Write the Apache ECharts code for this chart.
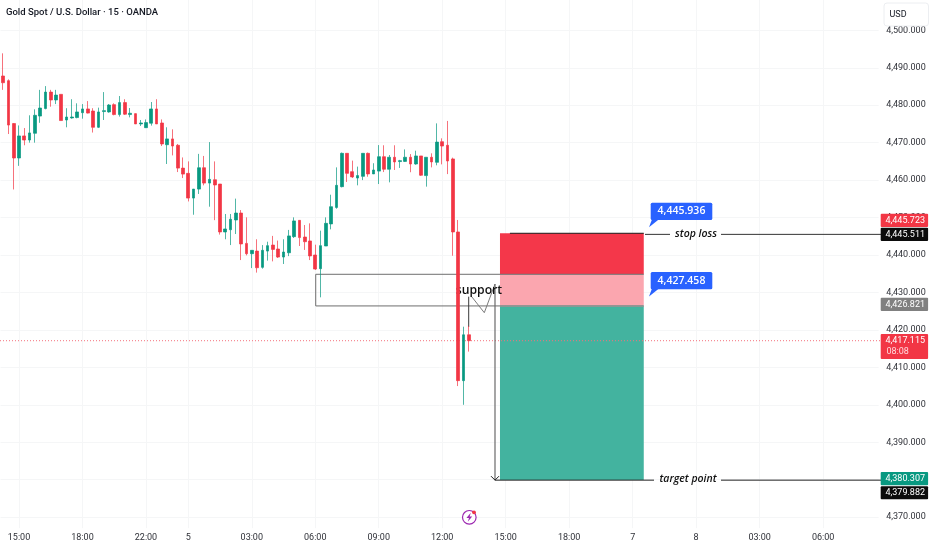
<!DOCTYPE html>
<html><head><meta charset="utf-8">
<style>html,body{margin:0;padding:0;background:#fff}#c{width:932px;height:550px}</style>
<script src="https://cdn.jsdelivr.net/npm/echarts@6/dist/echarts.min.js"></script>
</head><body><div id="c"></div>
<script>
const opens=[4487.8,4486.55,4475.1,4465.9,4471.8,4470.7,4472.5,4477.1,4479.1,4483.5,4481.4,4482.9,4476.05,4476.6,4476.7,4478.0,4479.0,4478.45,4474.1,4478.3,4478.2,4480.15,4477.5,4480.7,4477.5,4477.75,4475.0,4474.0,4475.2,4479.0,4475.25,4469.45,4471.0,4469.3,4463.2,4461.8,4455.2,4457.6,4463.3,4459.2,4460.1,4458.95,4446.15,4446.75,4449.35,4451.2,4443.1,4440.35,4441.05,4436.7,4441.05,4442.65,4441.6,4439.45,4440.6,4444.9,4449.25,4444.8,4443.75,4440.0,4436.35,4442.4,4448.3,4452.7,4458.25,4467.15,4462.25,4460.55,4461.0,4467.15,4461.65,4462.4,4466.25,4462.9,4466.1,4464.95,4465.0,4466.1,4464.3,4466.45,4461.2,4466.1,4464.75,4470.25,4469.3,4465.65,4446.15,4406.45,4418.7];
const closes=[4486.0,4474.7,4465.9,4471.8,4470.7,4472.6,4477.3,4479.25,4483.5,4481.4,4482.7,4475.9,4476.85,4476.85,4478.2,4479.0,4477.9,4474.1,4478.2,4478.55,4480.05,4477.5,4480.7,4477.6,4477.85,4475.0,4475.25,4475.35,4479.0,4475.0,4469.65,4471.0,4469.1,4463.2,4461.6,4455.2,4457.6,4463.3,4459.2,4460.2,4458.7,4446.15,4446.95,4449.55,4451.2,4442.95,4440.35,4441.25,4436.6,4441.25,4442.5,4441.5,4439.45,4440.8,4445.1,4449.1,4444.65,4443.55,4439.75,4436.25,4442.5,4448.45,4452.9,4458.6,4467.15,4461.8,4460.85,4461.2,4467.15,4461.65,4462.7,4466.25,4462.9,4466.1,4464.85,4465.2,4466.1,4464.3,4466.45,4461.3,4466.1,4464.85,4470.15,4469.1,4465.1,4446.15,4406.45,4418.7,4417.115];
const lows=[4484.1,4472.3,4457.5,4463.8,4469.3,4470.0,4470.0,4475.3,4478.9,4479.6,4480.3,4475.9,4474.1,4476.4,4476.5,4476.4,4477.8,4472.7,4473.9,4476.05,4478.0,4477.3,4476.95,4477.4,4476.75,4475.0,4474.45,4473.9,4474.55,4475.0,4469.1,4464.3,4466.6,4462.15,4460.55,4454.3,4450.75,4456.3,4458.6,4452.9,4449.3,4445.45,4444.2,4442.65,4445.6,4438.65,4439.9,4436.5,4435.3,4436.35,4438.5,4438.3,4439.2,4437.6,4439.7,4444.55,4442.4,4441.35,4438.65,4436.0,4428.7,4442.4,4446.85,4452.35,4458.05,4459.5,4460.55,4458.6,4460.0,4460.9,4461.65,4458.95,4462.15,4459.4,4462.7,4463.25,4464.85,4462.1,4464.1,4461.1,4458.25,4463.4,4463.95,4464.2,4461.6,4439.8,4405.0,4400.0,4414.2];
const highs=[4493.85,4486.9,4475.25,4474.6,4473.9,4477.3,4478.9,4484.1,4485.1,4484.1,4484.1,4482.9,4479.2,4481.6,4480.5,4480.3,4481.1,4479.2,4479.35,4483.5,4480.3,4480.5,4482.45,4481.6,4479.25,4477.85,4476.05,4476.2,4480.85,4481.6,4476.2,4474.1,4473.55,4469.65,4466.05,4465.0,4457.6,4467.0,4466.45,4470.15,4465.0,4458.95,4450.95,4450.95,4455.05,4452.0,4450.05,4441.25,4444.2,4442.65,4443.55,4445.1,4443.85,4444.2,4446.7,4450.05,4449.25,4448.0,4448.45,4442.75,4446.5,4450.05,4456.1,4463.4,4467.35,4467.15,4465.2,4463.6,4467.15,4467.35,4464.5,4469.35,4469.3,4466.7,4469.3,4465.4,4468.2,4466.95,4467.85,4466.45,4466.1,4467.15,4475.15,4471.15,4475.8,4466.0,4449.35,4420.85,4421.05];

const barCount=166;
const timeLabels=['15:00','18:00','22:00','5','03:00','06:00','09:00','12:00','15:00','18:00','7','8','03:00','06:00'];
const timeLabelBars=[3,15,27,35,47,59,71,83,95,107,119,131,143,155];

const tagLabels=['4,445.723','4,445.511','4,426.821','4,417.115','4,380.307','4,379.882'];
const tagPrices=[4445.723,4445.511,4426.821,4417.115,4380.307,4379.882];
const lastPrice=4417.115, countdown='08:08';
const stopLossTop=4445.8, zoneTop=4434.85, zoneBottom=4426.4, targetPrice=4379.92;
const stopLossLinePrice=4445.511, targetLinePrice=4379.882;
const toolLeft=93.92, toolRight=121.1, supportLeft=59.09;
const calloutPrices=[4445.936,4427.458];

const categories=Array.from({length:barCount},(_,i)=>{const k=timeLabelBars.indexOf(i);return k<0?'':timeLabels[k];});
const candles=opens.map((o,i)=>[o,closes[i],lows[i],highs[i]]);
const priceText=v=>v.toLocaleString('en-US',{minimumFractionDigits:3,maximumFractionDigits:3});

const RED='#f23645',GREEN='#089981',GRID='#f5f6f7',TXT='#2f3138';
const SANS='"Open Sans",sans-serif';
const AXISFONT='Roboto,sans-serif';
const tagStyle=[
 {fill:RED,dy:-13.2},{fill:'#0c0c0c',dy:0},{fill:'#808080',dy:0},{fill:RED,dy:0},{fill:'#089981',dy:0},{fill:'#0c0c0c',dy:12.6}];

function renderAnn(params,api){
  const X=(u)=>api.coord([u,0])[0];
  const Y=(p)=>api.coord([0,p])[1];
  const c=[];
  const box=(u0,p0,u1,p1,fill)=>c.push({type:'rect',shape:{x:X(u0),y:Y(p0),width:X(u1)-X(u0),height:Y(p1)-Y(p0)},style:{fill}});
  const line=(pts,stroke,lw,dash)=>c.push({type:'polyline',shape:{points:pts},style:{stroke,lineWidth:lw||1,fill:null,lineDash:dash||null}});
  const text=(t,x,y,font,fill,align)=>c.push({type:'text',style:{text:t,x,y,font,fill,align:align||'center',verticalAlign:'middle'}});

  // position tool
  box(toolLeft,stopLossTop,toolRight,zoneTop,'#f4374a');
  box(toolLeft,zoneTop,toolRight,zoneBottom+0.2,'#fba6af');
  box(toolLeft,zoneBottom,toolRight,targetPrice,'#43b39f');
  line([[X(toolLeft),Y(zoneBottom)],[X(toolRight),Y(zoneBottom)]],'#b9bdbb',1.5);
  line([[X(95.8),Y(stopLossTop)],[X(toolRight),Y(stopLossTop)]],'#1b1b1b',1);
  // support box
  line([[X(toolRight),Y(zoneTop)],[X(supportLeft),Y(zoneTop)],[X(supportLeft),Y(zoneBottom)],[X(toolRight),Y(zoneBottom)]],'#6e6e6e',1);

  // last price
  const yl=Y(lastPrice);
  line([[0,yl],[880,yl]],'#f4707c',1,[1,2]);

  // stop / target lines
  const ys=Y(stopLossLinePrice), yt=Y(targetLinePrice);
  line([[645,ys],[670,ys]],'#333',1);
  line([[721,ys],[881,ys]],'#333',1);
  line([[495,yt],[654,yt]],'#222',1);
  line([[721,yt],[881,yt]],'#222',1);
  text('stop loss',696,ys-0.5,'italic 600 10.5px '+SANS,'#111');
  text('target point',688,yt-1,'italic 600 10.5px '+SANS,'#111');

  // support callout
  line([[468.7,Y(4428.87)],[468.7,Y(4420.78)]],'#3a3a3a',1);
  line([[471.7,Y(4428.87)],[484.3,Y(4424.6)],[495,Y(4432.25)]],'#7c7c7c',1);
  line([[495,Y(4432.25)],[495,yt]],'#6a6a6a',1.2);
  line([[491,yt-4],[495,yt],[499,yt-4]],'#222',1);
  text('support',479,291,'600 12.2px '+SANS,'#111');

  // blue callouts
  calloutPrices.forEach(p=>{
    const yp=Y(p);
    c.push({type:'polygon',shape:{points:[[649,yp-5.4],[652,yp-13.5],[659,yp-13.5]]},style:{fill:'#2962ff'}});
    c.push({type:'rect',shape:{x:650.7,y:yp-30,width:61.6,height:17.3,r:1.5},style:{fill:'#2962ff'}});
    text(priceText(p),681.5,yp-21.3,'600 10.5px '+SANS,'#fff');
  });

  // price tags
  tagPrices.forEach((p,i)=>{
    const s=tagStyle[i], cy=Y(p)+s.dy;
    const two=tagLabels[i]==='4,417.115';
    c.push({type:'rect',shape:{x:880.7,y:cy-6.6,width:47.4,height:two?24.8:13.2,r:1},style:{fill:s.fill}});
    text(tagLabels[i],925,cy,'9px '+AXISFONT,'#fff','right');
    if(two) text(countdown,886.5,cy+11,'9px '+AXISFONT,'#ffd9dc','left');
  });
  return {type:'group',children:c};
}

const chart=echarts.init(document.getElementById('c'),null,{renderer:'canvas'});
chart.setOption({
  animation:false,backgroundColor:'#fff',
  title:{text:'Gold Spot / U.S. Dollar · 15 · OANDA',left:1,top:3,textStyle:{fontFamily:'Roboto',fontSize:9.5,fontWeight:500,color:'#131722'}},
  grid:{left:0.5,top:-7.15,width:878.14,height:524.3,containLabel:false,outerBoundsMode:'none'},
  xAxis:[{
    type:'category',data:categories,boundaryGap:true,
    axisLine:{show:false},
    axisTick:{show:true,alignWithLabel:true,length:11,interval:(i)=>categories[i]!=='',lineStyle:{color:GRID}},
    splitLine:{show:true,alignWithLabel:true,interval:(i)=>categories[i]!=='',lineStyle:{color:GRID,width:1}},
    axisLabel:{show:true,interval:(i)=>categories[i]!=='',hideOverlap:false,margin:16,color:TXT,fontFamily:'Roboto',fontSize:9}
  },{type:'value',show:false,min:-0.5,max:barCount-0.5,splitLine:{show:false}}],
  yAxis:{
    type:'value',position:'right',min:4370,max:4510,interval:10,scale:true,
    axisLine:{show:false},axisTick:{show:false},
    splitLine:{lineStyle:{color:GRID,width:1}},
    axisLabel:{margin:7.5,color:TXT,fontFamily:'Roboto',fontSize:9,formatter:v=>priceText(v)}
  },
  graphic:[
    {type:'rect',z:100,shape:{x:884,y:3,width:44.5,height:23,r:3},style:{fill:'#fff',stroke:'#eceef1',lineWidth:1}},
    {type:'text',z:101,style:{text:'USD',x:889.5,y:14.5,font:'9px '+AXISFONT,fill:'#131722',verticalAlign:'middle'}},
    {type:'circle',z:100,shape:{cx:469.3,cy:517.3,r:6.8},style:{fill:'#fff',stroke:'#9c27b0',lineWidth:1.2}},
    {type:'polygon',z:101,shape:{points:[[470.8,512.8],[466.4,518],[469,518],[467.8,521.8],[472.2,516.4],[469.6,516.4]]},style:{fill:'#9c27b0'}},
    {type:'circle',z:102,shape:{cx:474,cy:512.3,r:1.9},style:{fill:RED}}
  ],
  series:[{
    type:'candlestick',data:candles,barWidth:3.2,z:3,clip:false,
    itemStyle:{color:GREEN,color0:RED,borderColor:'rgba(8,153,129,0.7)',borderColor0:'rgba(242,54,69,0.7)',borderWidth:1}
  },{
    type:'custom',xAxisIndex:1,yAxisIndex:0,data:[[0,4440]],clip:false,z:2,silent:true,renderItem:renderAnn
  }]
});
</script></body></html>
